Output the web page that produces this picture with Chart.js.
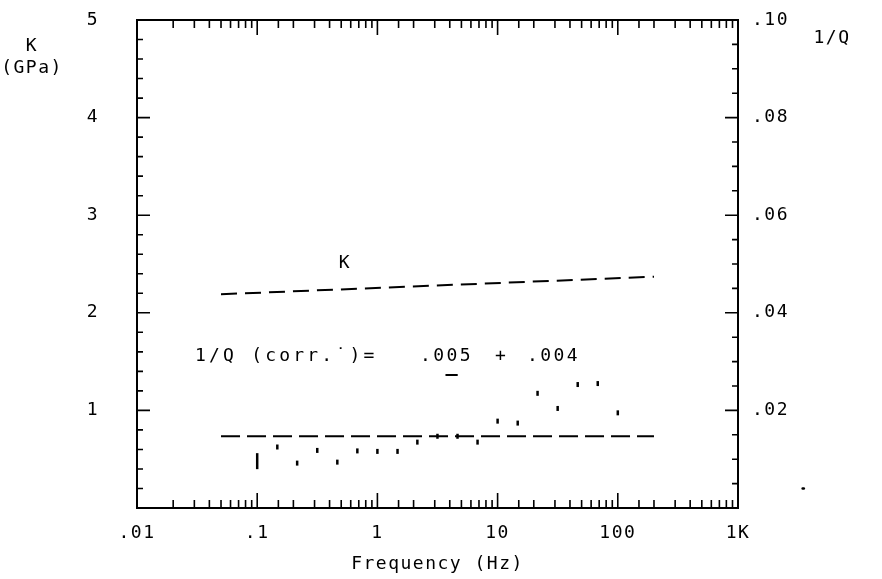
<!DOCTYPE html>
<html><head><meta charset="utf-8">
<script src="https://cdn.jsdelivr.net/npm/chart.js@4.4.1/dist/chart.umd.min.js"></script>
<style>html,body{margin:0;padding:0;background:#fff}#wrap{width:882px;height:579px;position:relative}canvas{display:block}</style>
</head><body><div id="wrap"><canvas id="c" width="882" height="579"></canvas></div>
<script>
// ---- data ----
const freqTicks = [0.01, 0.1, 1, 10, 100, 1000];
const freqTickLabels = ['.01', '.1', '1', '10', '100', '1K'];
const kTicks = [1, 2, 3, 4, 5];
const kTickLabels = ['1', '2', '3', '4', '5'];
const qTicks = [0.02, 0.04, 0.06, 0.08, 0.10];
const qTickLabels = ['.02', '.04', '.06', '.08', '.10'];
const kLineFreq = [0.05, 200];
const kLineValues = [2.19, 2.37];
const qMeanFreq = [0.05, 200];
const qMeanValues = [0.0147, 0.0147];
const qFreq = [0.1, 0.147, 0.215, 0.316, 0.464, 0.681, 1, 1.47, 2.15, 3.16, 4.64, 6.81, 10, 14.7, 21.5, 31.6, 46.4, 68.1, 100];
const qValues = [0.0096, 0.0125, 0.0092, 0.0118, 0.0094, 0.0117, 0.0116, 0.0116, 0.0135, 0.0147, 0.0147, 0.0135, 0.0178, 0.0174, 0.0235, 0.0204, 0.0253, 0.0255, 0.0195];
const strayFreq = [3450, 3530];
const strayValues = [0.004, 0.004];

const FONT = 'DejaVu Sans Mono';
const SPACING = '1.5px';
const toXY = (xs, ys) => xs.map((x, i) => ({x: x, y: ys[i]}));
const near = (v, arr) => arr.findIndex(a => Math.abs(a - v) < 1e-6 * Math.max(1, Math.abs(a)));

const spacingPlugin = {
  id: 'spacing',
  beforeLayout(chart) { chart.ctx.letterSpacing = SPACING; },
  beforeDraw(chart) { chart.ctx.letterSpacing = SPACING; }
};

const framePlugin = {
  id: 'frame',
  afterDraw(chart) {
    const ctx = chart.ctx, a = chart.chartArea;
    ctx.save();
    ctx.strokeStyle = '#000';
    ctx.lineWidth = 2;
    ctx.strokeRect(a.left, a.top, a.right - a.left, a.bottom - a.top);
    ctx.lineWidth = 1.6;
    ctx.beginPath();
    const xs = chart.scales.x;
    xs.ticks.forEach(t => {
      const px = xs.getPixelForValue(t.value);
      if (px < a.left - 0.5 || px > a.right + 0.5) return;
      const L = near(t.value, freqTicks) >= 0 ? 15 : 8;
      ctx.moveTo(px, a.bottom); ctx.lineTo(px, a.bottom - L);
      ctx.moveTo(px, a.top); ctx.lineTo(px, a.top + L);
    });
    const yk = chart.scales.yK;
    yk.ticks.forEach(t => {
      const py = yk.getPixelForValue(t.value);
      const L = Math.abs(t.value - Math.round(t.value)) < 1e-6 ? 13 : 6;
      ctx.moveTo(a.left, py); ctx.lineTo(a.left + L, py);
    });
    const yq = chart.scales.yQ;
    yq.ticks.forEach(t => {
      const py = yq.getPixelForValue(t.value);
      const L = near(t.value, qTicks) >= 0 ? 13 : 6;
      ctx.moveTo(a.right, py); ctx.lineTo(a.right - L, py);
    });
    ctx.stroke();

    // annotation texts
    ctx.fillStyle = '#000';
    ctx.font = '18px "' + FONT + '"';
    ctx.textBaseline = 'middle';
    ctx.textAlign = 'center';
    ctx.letterSpacing = SPACING;
    ctx.fillText('K', 32, 46);
    ctx.fillText('(GPa)', 32, 68);
    ctx.fillText('1/Q', 832, 38);
    ctx.fillText('K', 345, 263);
    ctx.textAlign = 'left';
    ctx.letterSpacing = '3.2px';
    ctx.fillText('1/Q (corr.\u02D9)=', 195, 356);
    ctx.letterSpacing = '2.4px';
    ctx.fillText('.005', 420, 356);
    ctx.fillText('+', 495, 356);
    ctx.fillText('.004', 527, 356);
    const w1 = ctx.measureText('.0').width;
    const w2 = ctx.measureText('.00').width;
    ctx.lineWidth = 2;
    ctx.beginPath();
    ctx.moveTo(420 + w1 - 1, 375); ctx.lineTo(420 + w2 - 2, 375);
    ctx.stroke();
    ctx.restore();
  }
};

new Chart(document.getElementById('c'), {
  data: {
    datasets: [
      {type: 'line', data: toXY(kLineFreq, kLineValues), yAxisID: 'yK', borderColor: '#000', borderWidth: 2, borderDash: [16, 8], pointRadius: 0, fill: false},
      {type: 'line', data: toXY(qMeanFreq, qMeanValues), yAxisID: 'yQ', borderColor: '#000', borderWidth: 2, borderDash: [19, 7], pointRadius: 0, fill: false},
      {type: 'scatter', data: toXY(qFreq, qValues), yAxisID: 'yQ', pointStyle: 'line', rotation: 90,
       pointRadius: c => c.dataIndex === 0 ? 8 : 2.5, borderColor: '#000', backgroundColor: '#000', pointBorderWidth: 2.5},
      {type: 'line', data: toXY(strayFreq, strayValues), yAxisID: 'yQ', clip: false, borderColor: '#000',
       borderWidth: 2.5, borderCapStyle: 'round', pointRadius: 0, fill: false}
    ]
  },
  options: {
    responsive: false,
    animation: false,
    devicePixelRatio: 1,
    layout: {padding: {top: 20, left: 0, right: 0, bottom: 0}},
    plugins: {legend: {display: false}, tooltip: {enabled: false}},
    scales: {
      x: {
        type: 'logarithmic', position: 'bottom', min: 0.01, max: 1000,
        grid: {display: false, drawTicks: false}, border: {display: false},
        ticks: {autoSkip: false, maxRotation: 0, padding: 15, color: '#000', font: {family: FONT, size: 18},
          callback: v => { const i = near(v, freqTicks); return i >= 0 ? freqTickLabels[i] : ''; }},
        title: {display: true, text: 'Frequency (Hz)', color: '#000', font: {family: FONT, size: 18}, padding: {top: 0, bottom: 4}},
        afterFit: s => { s.height = 71; s.paddingLeft = 0; s.paddingRight = 0; }
      },
      yK: {
        type: 'linear', position: 'left', min: 0, max: 5,
        grid: {display: false, drawTicks: false}, border: {display: false},
        ticks: {stepSize: 0.2, autoSkip: false, padding: 38, color: '#000', font: {family: FONT, size: 18},
          callback: v => { const i = near(v, kTicks); return i >= 0 ? kTickLabels[i] : ''; }},
        afterFit: s => { s.width = 137; s.paddingTop = 0; s.paddingBottom = 0; }
      },
      yQ: {
        type: 'linear', position: 'right', min: 0, max: 0.1,
        grid: {display: false, drawTicks: false}, border: {display: false},
        ticks: {stepSize: 0.005, autoSkip: false, padding: 14, color: '#000', font: {family: FONT, size: 18},
          callback: v => { const i = near(v, qTicks); return i >= 0 ? qTickLabels[i] : ''; }},
        afterFit: s => { s.width = 144; s.paddingTop = 0; s.paddingBottom = 0; }
      }
    }
  },
  plugins: [spacingPlugin, framePlugin]
});
</script>
</body></html>
